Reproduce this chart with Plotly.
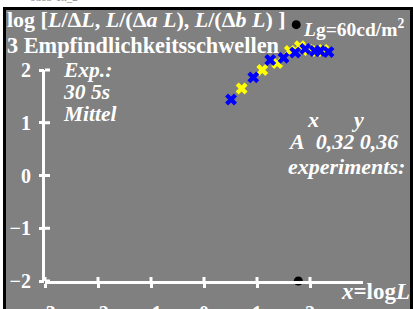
import plotly.graph_objects as go

# ---- data ----
blue_x = [0.51, 0.93, 1.25, 1.50, 1.72, 1.91, 2.09, 2.19, 2.35]
blue_y = [1.44, 1.86, 2.19, 2.23, 2.33, 2.40, 2.36, 2.36, 2.34]
yellow_x = [0.71, 1.10, 1.38, 1.62, 1.81, 1.97, 2.13, 2.25]
yellow_y = [1.65, 2.00, 2.13, 2.36, 2.45, 2.38, 2.36, 2.38]
dot_x = [1.74, 1.78]
dot_y = [2.86, -2.0]
x_ticks = [-3, -2, -1, 0, 1, 2]
x_tick_labels = ["\u22123", "\u22122", "\u22121", "0", "1", "2"]
y_ticks = [-2, -1, 0, 1, 2]
y_tick_labels = ["\u22122", "\u22121", "0", "1", "2"]

W, H = 413, 309
ML, MR, MT, MB = 45, 50, 0, 28
PW, PH = W - ML - MR, H - MT - MB
YPX = 52.75
Y_LO = -2.0
Y_HI = Y_LO + PH / YPX

def px(xp):
    return (xp - ML) / PW

def py(yp):
    return (H - MB - yp) / PH

FONT = "Liberation Serif"
GRAY = "#808080"

fig = go.Figure()
fig.add_trace(go.Scatter(x=yellow_x, y=yellow_y, mode="markers",
                         marker=dict(symbol="x", size=10.5, color="#ffff00", line=dict(width=0)),
                         cliponaxis=False, showlegend=False, hoverinfo="skip"))
fig.add_trace(go.Scatter(x=blue_x, y=blue_y, mode="markers",
                         marker=dict(symbol="x", size=10.5, color="#0000ff", line=dict(width=0)),
                         cliponaxis=False, showlegend=False, hoverinfo="skip"))
fig.add_trace(go.Scatter(x=dot_x, y=dot_y, mode="markers",
                         marker=dict(symbol="circle", size=9, color="black", line=dict(width=0)),
                         cliponaxis=False, showlegend=False, hoverinfo="skip"))

shapes = [dict(type="rect", xref="paper", yref="paper",
               x0=px(4.5), x1=px(411.5), y0=py(312), y1=py(8.5),
               fillcolor=GRAY, line=dict(color="black", width=3), layer="below")]
# y axis line (only from -2 to 2)
shapes.append(dict(type="line", xref="paper", yref="y", x0=-1.5 / PW, x1=-1.5 / PW,
                   y0=y_ticks[0], y1=y_ticks[-1], line=dict(color="white", width=3)))
# inner halves of the crossing tick marks
for t in x_ticks:
    shapes.append(dict(type="line", xref="x", yref="paper", x0=t, x1=t, y0=0, y1=4 / PH,
                       line=dict(color="white", width=3)))
for t in y_ticks:
    shapes.append(dict(type="line", xref="paper", yref="y", x0=0, x1=5 / PW, y0=t, y1=t,
                       line=dict(color="white", width=3)))

ann = []
def text(s, xl, yc, size=22, anchor="left", color="white"):
    ann.append(dict(text=s, xref="paper", yref="paper", x=px(xl), y=py(yc),
                    xanchor=anchor, yanchor="middle", showarrow=False,
                    font=dict(family=FONT, size=size, color=color)))

text("ouo3-1n_2", 28, -3, size=11, color="#888888")
text("<b>log [<i>L</i>/\u0394<i>L</i>, <i>L</i>/(\u0394<i>a L</i>), <i>L</i>/(\u0394<i>b L</i>) ]</b>", 5, 19, size=22)
text("<b>3 Empfindlichkeitsschwellen</b>", 5, 45, size=22.3)
text("<b><i>L</i>g=60cd/m<sup>2</sup></b>", 301, 28, size=19.5)
text("<b><i>Exp.:</i></b>", 61, 70, size=21.5)
text("<b><i>30 5s</i></b>", 61, 92, size=21.5)
text("<b><i>Mittel</i></b>", 61, 114, size=21.5)
text("<b><i>x</i></b>", 313, 120, size=22, anchor="center")
text("<b><i>y</i></b>", 357, 120, size=22, anchor="center")
text("<b><i>A\u00a0\u00a00,32 0,36</i></b>", 286, 142, size=22)
text("<b><i>experiments:</i></b>", 286, 166, size=22)
text("<b><i>x</i>=log<i>L</i></b>", 339, 291, size=23)

tickfont = dict(family=FONT, size=20, color="white", weight="bold")
common = dict(showgrid=False, zeroline=False, tickmode="array", tickwidth=3,
              tickcolor="white", automargin=False, linewidth=3,
              linecolor="white", ticks="outside", fixedrange=True)

fig.update_layout(
    width=W, height=H,
    margin=dict(l=ML, r=MR, t=MT, b=MB, pad=0, autoexpand=False),
    paper_bgcolor="white", plot_bgcolor="rgba(0,0,0,0)",
    hovermode=False,
    shapes=shapes, annotations=ann,
    xaxis=dict(range=[-3, 3], tickvals=x_ticks, ticktext=x_tick_labels, ticklen=4,
               showline=True, ticklabelstandoff=8, tickfont=tickfont, **common),
    yaxis=dict(range=[Y_LO, Y_HI], tickvals=y_ticks, ticktext=y_tick_labels, ticklen=5,
               showline=False, ticklabelstandoff=4, tickfont=tickfont, **common),
)

fig.write_html("out.html", config={"displayModeBar": False, "staticPlot": True},
               post_script="document.body.style.margin='0';")
